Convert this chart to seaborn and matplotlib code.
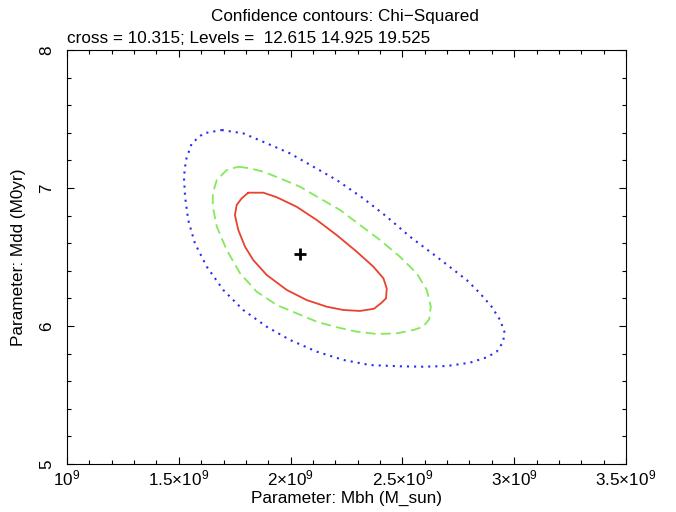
import numpy as np
import pandas as pd
import matplotlib
matplotlib.use("Agg")
import matplotlib.pyplot as plt
import seaborn as sns
from matplotlib.ticker import FixedLocator, FixedFormatter, MultipleLocator

# ---------------- text ----------------
title = "Confidence contours: Chi\u2212Squared"
subtitle = "cross = 10.315; Levels =  12.615 14.925 19.525"
x_label = "Parameter: Mbh (M_sun)"
y_label = "Parameter: Mdd (M0yr)"

# ---------------- data ----------------
# best fit (cross)
best_mbh = [2.042e9]
best_mdd = [6.522]

# contour level 12.615 (red, solid); Mbh in units of 1e9 M_sun
red_mbh = [1.811, 1.878, 1.938, 2.027, 2.117, 2.206, 2.296, 2.370, 2.415, 2.430,
           2.427, 2.407, 2.373, 2.310, 2.236, 2.161, 2.072, 1.983, 1.893, 1.833,
           1.796, 1.766, 1.751, 1.759, 1.781]
red_mdd = [6.966, 6.966, 6.933, 6.864, 6.768, 6.659, 6.538, 6.430, 6.346, 6.273,
           6.201, 6.169, 6.125, 6.109, 6.116, 6.140, 6.188, 6.261, 6.370, 6.478,
           6.575, 6.696, 6.804, 6.877, 6.925]

# contour level 14.925 (green, dashed)
green_mbh = [1.766, 1.818, 1.878, 1.953, 2.042, 2.131, 2.221, 2.310, 2.400, 2.489,
             2.564, 2.609, 2.627, 2.620, 2.593, 2.549, 2.475, 2.385, 2.296, 2.206,
             2.117, 2.027, 1.938, 1.848, 1.774, 1.714, 1.670, 1.652, 1.652, 1.670,
             1.714]
green_mdd = [7.154, 7.143, 7.118, 7.070, 7.009, 6.925, 6.841, 6.732, 6.623, 6.502,
             6.382, 6.261, 6.140, 6.049, 5.995, 5.971, 5.947, 5.942, 5.959, 5.991,
             6.031, 6.092, 6.152, 6.249, 6.382, 6.551, 6.720, 6.864, 6.962, 7.058,
             7.130]

# contour level 19.525 (blue, dotted)
blue_mbh = [1.692, 1.788, 1.893, 1.997, 2.102, 2.206, 2.325, 2.430, 2.534, 2.653,
            2.788, 2.847, 2.899, 2.937, 2.956, 2.951, 2.922, 2.877, 2.802, 2.698,
            2.593, 2.489, 2.355, 2.236, 2.117, 1.997, 1.893, 1.788, 1.699, 1.625,
            1.572, 1.542, 1.528, 1.523, 1.532, 1.558, 1.610]
blue_mdd = [7.420, 7.396, 7.324, 7.251, 7.154, 7.058, 6.925, 6.792, 6.647, 6.502,
            6.333, 6.237, 6.140, 6.043, 5.959, 5.886, 5.814, 5.773, 5.734, 5.710,
            5.705, 5.708, 5.717, 5.754, 5.814, 5.899, 5.995, 6.116, 6.261, 6.430,
            6.599, 6.768, 6.937, 7.082, 7.203, 7.324, 7.396]

x_ticks = [1.0e9, 1.5e9, 2.0e9, 2.5e9, 3.0e9, 3.5e9]
x_tick_labels = ["10$^9$", "1.5\u00d710$^9$", "2\u00d710$^9$",
                 "2.5\u00d710$^9$", "3\u00d710$^9$", "3.5\u00d710$^9$"]
y_ticks = [5, 6, 7, 8]
y_tick_labels = ["5", "6", "7", "8"]

# ---------------- style ----------------
sns.set_theme(style="ticks")
plt.rcParams["font.family"] = ["Liberation Sans", "DejaVu Sans"]
plt.rcParams["mathtext.fontset"] = "custom"
plt.rcParams["mathtext.rm"] = "Liberation Sans"
plt.rcParams["mathtext.it"] = "Liberation Sans:italic"
plt.rcParams["mathtext.bf"] = "Liberation Sans:bold"

FS = 12.3
W, H = 676, 512
fig = plt.figure(figsize=(W / 100, H / 100), dpi=100)
ax_l, ax_r, ax_t, ax_b = 67, 626, 50, 464
ax = fig.add_axes([ax_l / W, 1 - ax_b / H, (ax_r - ax_l) / W, (ax_b - ax_t) / H])
ax.set_facecolor("white")


def closed(mbh, mdd):
    x = np.asarray(mbh) * 1e9
    y = np.asarray(mdd)
    return pd.DataFrame({"mbh": np.append(x, x[0]), "mdd": np.append(y, y[0])})


contours = [
    (closed(blue_mbh, blue_mdd), "#2b2bf2", 1.5, (1.0, 2.4)),
    (closed(green_mbh, green_mdd), "#84e95a", 1.3, (5.5, 2.9)),
    (closed(red_mbh, red_mdd), "#e8412c", 1.3, None),
]
for df, col, lw, dash in contours:
    kws = dict(color=col, linewidth=lw)
    if dash is not None:
        kws["dashes"] = dash
    sns.lineplot(data=df, x="mbh", y="mdd", sort=False, estimator=None, ax=ax, **kws)

sns.scatterplot(x=best_mbh, y=best_mdd, marker="+", s=80, color="black",
                linewidth=2.0, ax=ax, zorder=5)

ax.set_xlim(1.0e9, 3.5e9)
ax.set_ylim(5, 8)

ax.xaxis.set_major_locator(FixedLocator(x_ticks))
ax.xaxis.set_major_formatter(FixedFormatter(x_tick_labels))
ax.xaxis.set_minor_locator(MultipleLocator(0.1e9))
ax.yaxis.set_major_locator(FixedLocator(y_ticks))
ax.yaxis.set_major_formatter(FixedFormatter(y_tick_labels))
ax.yaxis.set_minor_locator(MultipleLocator(0.2))

ax.tick_params(which="both", direction="in", top=True, right=True,
               labeltop=False, labelright=False, color="black", width=0.8)
ax.tick_params(which="major", length=5)
ax.tick_params(which="minor", length=2.6)
ax.tick_params(axis="x", which="major", pad=3.5, labelsize=FS, labelcolor="black")
ax.tick_params(axis="y", which="major", pad=9, labelsize=FS, labelcolor="black")
for lab in ax.get_yticklabels():
    lab.set_rotation(90)
    lab.set_va("center")

for sp in ax.spines.values():
    sp.set_visible(True)
    sp.set_color("black")
    sp.set_linewidth(0.8)

ax.set_xlabel(x_label, fontsize=FS, color="black", va="center")
ax.set_ylabel(y_label, fontsize=FS, color="black", va="center")
ax.xaxis.set_label_coords(0.5, (ax_b - 498) / (ax_b - ax_t))
ax.yaxis.set_label_coords((19 - ax_l) / (ax_r - ax_l), 0.5)

fig.text(345 / W, 1 - 21.5 / H, title, ha="center", va="baseline", fontsize=FS, color="black")
fig.text(ax_l / W, 1 - 43 / H, subtitle, ha="left", va="baseline", fontsize=FS, color="black")

fig.savefig("out.png", dpi=100, facecolor="white")
